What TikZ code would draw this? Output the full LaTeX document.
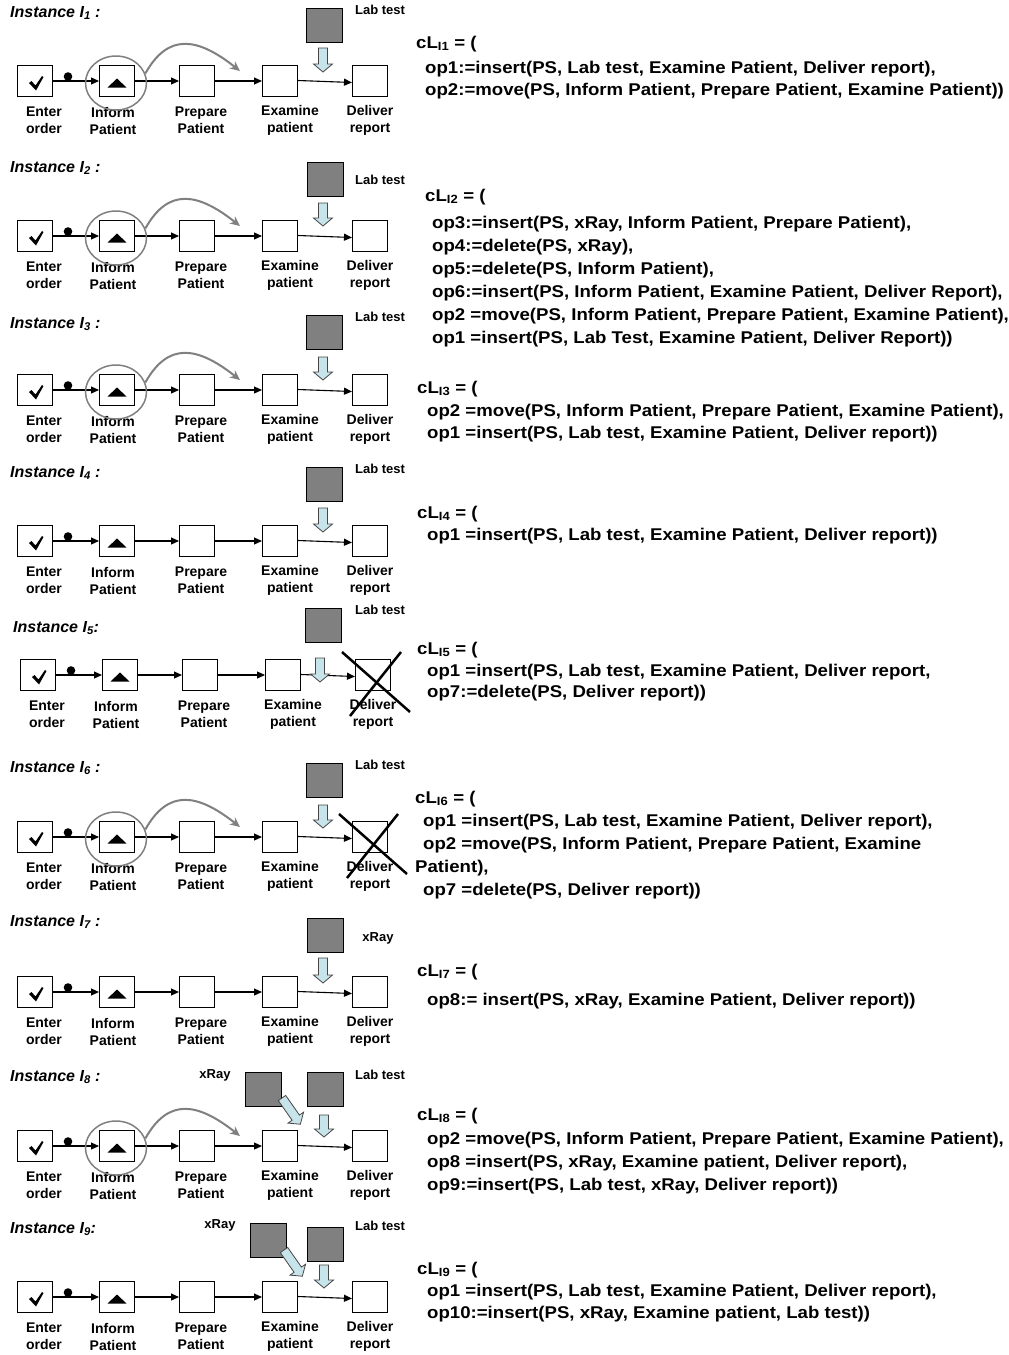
\documentclass[tikz,border=0pt]{standalone}
\usepackage{fontspec}
\setmainfont{Liberation Sans}
\newfontfamily\widesans[FakeStretch=1.095]{Liberation Sans}
\usetikzlibrary{arrows.meta,shapes.geometric,calc}
\definecolor{labgray}{RGB}{128,128,128}
\definecolor{movegray}{RGB}{128,128,128}
\definecolor{arrblue}{RGB}{200,228,235}
\definecolor{arredge}{RGB}{70,70,70}
\newcommand\mkchain[3]{%
  \node[taskbox] (e#1) at (35+#3,#2) {};
  \node[taskbox] (i#1) at (117+#3,#2) {};
  \node[taskbox] (p#1) at (197+#3,#2) {};
  \node[taskbox] (x#1) at (280+#3,#2) {};
  \node[taskbox] (d#1) at (370+#3,#2) {};
  \node[lbl] (le#1) at (44+#3,#2+39.5) {Enter\\order};
  \node[lbl] (li#1) at (113+#3,#2+39.5) {Inform\\Patient};
  \node[lbl] (lp#1) at (201+#3,#2+39.5) {Prepare\\Patient};
  \node[lbl] (lx#1) at (290+#3,#2+39.5) {Examine\\patient};
  \node[lbl] (ld#1) at (370+#3,#2+39.5) {Deliver\\report};
  \draw[flow] (e#1) -- (i#1);
  \draw[flow] (i#1) -- (p#1);
  \draw[flow] (p#1) -- (x#1);
  \draw[flow] ([yshift=0.5pt]x#1.east) -- ([yshift=-1.5pt]d#1.west);
  \fill (68+#3,#2-4.5) circle[radius=4.3pt];
  \fill (29+#3,#2+2) -- (31.5+#3,#2) -- (35.5+#3,#2+4.5) -- (42+#3,#2-5) -- (43.5+#3,#2-4) -- (36+#3,#2+9.5) -- cycle;
  \fill (107.5+#3,#2+6.5) -- (126.5+#3,#2+6.5) -- (117+#3,#2-2.5) -- cycle;
}
\newcommand\mkmove[2]{%
  \node[ring] (c#1) at (116,#2+2) {};
  \coordinate (m#1) at (240,#2-10);
  \draw[movearr] (c#1.18) .. controls (168,#2-48) and (197,#2-44) .. (m#1);
}
\newcommand\mkcross[1]{%
  \draw[crossline] ($(d#1)+(-31,-23)$) -- ($(d#1)+(37,37)$);
  \draw[crossline] ($(d#1)+(28,-23)$) -- ($(d#1)+(-23,41)$);
}
\begin{document}
\begin{tikzpicture}[x=1pt,y=-1pt,
  taskbox/.style={draw,line width=1pt,minimum width=35pt,minimum height=31pt,inner sep=0pt,fill=white},
  extbox/.style={draw,line width=0.8pt,fill=labgray,minimum width=36pt,minimum height=34pt,inner sep=0pt},
  lbl/.style={align=center,inner sep=0pt,font=\fontsize{14}{17}\selectfont\bfseries},
  extlbl/.style={inner sep=0pt,font=\fontsize{13}{15}\selectfont\bfseries},
  ititle/.style={anchor=west,inner sep=0pt,font=\fontsize{16}{19}\selectfont\bfseries\itshape},
  rtext/.style={anchor=base west,inner sep=0pt,font=\widesans\fontsize{17}{20}\selectfont\bfseries},
  flow/.style={line width=1.1pt,-{Triangle[length=8pt,width=7pt]}},
  ring/.style={ellipse,draw=movegray,line width=1.5pt,minimum width=61pt,minimum height=54pt,inner sep=0pt},
  movearr/.style={draw=movegray,line width=2pt,-{Stealth[length=10pt,width=9pt]}},
  crossline/.style={line width=2.5pt},
  pics/blockarr/.style={code={\draw[fill=arrblue,draw=arredge,line width=0.8pt] (-4.5,0) -- (4.5,0) -- (4.5,#1-8) -- (9.5,#1-8) -- (0,#1) -- (-9.5,#1-8) -- (-4.5,#1-8) -- cycle;}}
]
\useasboundingbox[fill=white] (0,0) rectangle (1009,1355);

% ---------- Instance 1
\node[ititle] (t1) at (10,13) {Instance I\textsubscript{1} :};
\mkchain{1}{81}{0}
\mkmove{1}{81}
\node[extbox] (lab1) at (324,25.5) {};
\node[extlbl] (lablbl1) at (380,10) {Lab test};
\pic at (323,48) {blockarr=24};
\node[rtext] (r1a) at (416,48) {cL\textsubscript{I1} = (};
\node[rtext] (r1b) at (425,73) {op1:=insert(PS, Lab test, Examine Patient, Deliver report),};
\node[rtext] (r1c) at (425,95) {op2:=move(PS, Inform Patient, Prepare Patient, Examine Patient))};

% ---------- Instance 2
\node[ititle] (t2) at (10,168) {Instance I\textsubscript{2} :};
\mkchain{2}{236}{0}
\mkmove{2}{236}
\node[extbox] (lab2) at (325,179) {};
\node[extlbl] (lablbl2) at (380,180) {Lab test};
\pic at (323,203) {blockarr=23};
\node[rtext] (r2a) at (425,201) {cL\textsubscript{I2} = (};
\node[rtext] (r2b) at (432,228) {op3:=insert(PS, xRay, Inform Patient, Prepare Patient),};
\node[rtext] (r2c) at (432,251) {op4:=delete(PS, xRay),};
\node[rtext] (r2d) at (432,274) {op5:=delete(PS, Inform Patient),};
\node[rtext] (r2e) at (432,297) {op6:=insert(PS, Inform Patient, Examine Patient, Deliver Report),};
\node[rtext] (r2f) at (432,320) {op2 =move(PS, Inform Patient, Prepare Patient, Examine Patient),};
\node[rtext] (r2g) at (432,343) {op1 =insert(PS, Lab Test, Examine Patient, Deliver Report))};

% ---------- Instance 3
\node[ititle] (t3) at (10,324) {Instance I\textsubscript{3} :};
\mkchain{3}{390}{0}
\mkmove{3}{390}
\node[extbox] (lab3) at (324,332.5) {};
\node[extlbl] (lablbl3) at (380,317) {Lab test};
\pic at (323,357) {blockarr=23};
\node[rtext] (r3a) at (417,393) {cL\textsubscript{I3} = (};
\node[rtext] (r3b) at (427,416) {op2 =move(PS, Inform Patient, Prepare Patient, Examine Patient),};
\node[rtext] (r3c) at (427,438) {op1 =insert(PS, Lab test, Examine Patient, Deliver report))};

% ---------- Instance 4
\node[ititle] (t4) at (10,473) {Instance I\textsubscript{4} :};
\mkchain{4}{541}{0}
\node[extbox] (lab4) at (324,484) {};
\node[extlbl] (lablbl4) at (380,469) {Lab test};
\pic at (323,508) {blockarr=24};
\node[rtext] (r4a) at (417,518) {cL\textsubscript{I4} = (};
\node[rtext] (r4b) at (427,540) {op1 =insert(PS, Lab test, Examine Patient, Deliver report))};

% ---------- Instance 5
\node[ititle] (t5) at (13,628) {Instance I\textsubscript{5}:};
\mkchain{5}{675}{3}
\node[extbox] (lab5) at (323.5,625) {};
\node[extlbl] (lablbl5) at (380,610) {Lab test};
\pic at (320,658) {blockarr=24};
\mkcross{5}
\node[rtext] (r5a) at (417,654) {cL\textsubscript{I5} = (};
\node[rtext] (r5b) at (427,676) {op1 =insert(PS, Lab test, Examine Patient, Deliver report,};
\node[rtext] (r5c) at (427,697) {op7:=delete(PS, Deliver report))};

% ---------- Instance 6
\node[ititle] (t6) at (10,768) {Instance I\textsubscript{6} :};
\mkchain{6}{837}{0}
\mkmove{6}{837}
\node[extbox] (lab6) at (324,780.5) {};
\node[extlbl] (lablbl6) at (380,765) {Lab test};
\pic at (323,805) {blockarr=23};
\mkcross{6}
\node[rtext] (r6a) at (415,803) {cL\textsubscript{I6} = (};
\node[rtext] (r6b) at (423,826) {op1 =insert(PS, Lab test, Examine Patient, Deliver report),};
\node[rtext] (r6c) at (423,849) {op2 =move(PS, Inform Patient, Prepare Patient, Examine};
\node[rtext] (r6d) at (415,872) {Patient),};
\node[rtext] (r6e) at (423,895) {op7 =delete(PS, Deliver report))};

% ---------- Instance 7
\node[ititle] (t7) at (10,922) {Instance I\textsubscript{7} :};
\mkchain{7}{992}{0}
\node[extbox] (lab7) at (325,935.5) {};
\node[extlbl] (lablbl7) at (378,938) {xRay};
\pic at (323,958) {blockarr=25};
\node[rtext] (r7a) at (417,976) {cL\textsubscript{I7} = (};
\node[rtext] (r7b) at (427,1005) {op8:= insert(PS, xRay, Examine Patient, Deliver report))};

% ---------- Instance 8
\node[ititle] (t8) at (10,1077) {Instance I\textsubscript{8} :};
\mkchain{8}{1146}{0}
\mkmove{8}{1146}
\node[extbox] (xr8) at (263.5,1089) {};
\node[extbox] (lab8) at (325,1089) {};
\node[extlbl] (xrlbl8) at (215,1075) {xRay};
\node[extlbl] (lablbl8) at (380,1075) {Lab test};
\pic[rotate=35] at (282,1098) {blockarr=32};
\pic at (324,1115) {blockarr=22};
\node[rtext] (r8a) at (417,1120) {cL\textsubscript{I8} = (};
\node[rtext] (r8b) at (427,1144) {op2 =move(PS, Inform Patient, Prepare Patient, Examine Patient),};
\node[rtext] (r8c) at (427,1167) {op8 =insert(PS, xRay, Examine patient, Deliver report),};
\node[rtext] (r8d) at (427,1190) {op9:=insert(PS, Lab test, xRay, Deliver report))};

% ---------- Instance 9
\node[ititle] (t9) at (10,1229) {Instance I\textsubscript{9}:};
\mkchain{9}{1297}{0}
\node[extbox] (xr9) at (268.5,1240) {};
\node[extbox] (lab9) at (325,1244) {};
\node[extlbl] (xrlbl9) at (220,1225) {xRay};
\node[extlbl] (lablbl9) at (380,1226) {Lab test};
\pic[rotate=35] at (284,1250) {blockarr=32};
\pic at (324,1265) {blockarr=23};
\node[rtext] (r9a) at (417,1274) {cL\textsubscript{I9} = (};
\node[rtext] (r9b) at (427,1296) {op1 =insert(PS, Lab test, Examine Patient, Deliver report),};
\node[rtext] (r9c) at (427,1318) {op10:=insert(PS, xRay, Examine patient, Lab test))};
\end{tikzpicture}
\end{document}
